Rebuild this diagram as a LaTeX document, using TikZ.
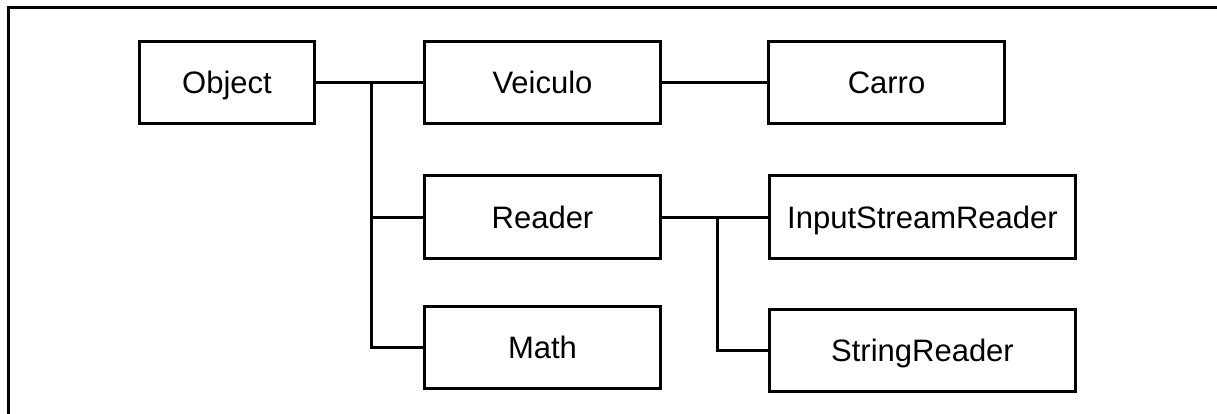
\documentclass[tikz,border=0pt]{standalone}
\usepackage{fontspec}
\setmainfont{Liberation Sans}
\begin{document}
\begin{tikzpicture}[x=1pt,y=-1pt,
  classbox/.style={draw, line width=3pt, rectangle, minimum height=82pt,
    inner sep=0pt, text height=22pt, text depth=0pt,
    font=\fontsize{31}{36}\selectfont},
  link/.style={line width=3pt}]
\useasboundingbox (0,0) rectangle (1217,414);
% frame
\draw[line width=3pt] (8,414) -- (8,7.5) -- (1217,7.5);
% classes
\node[classbox, minimum width=175pt] (obj) at (227,83) {Object};
\node[classbox, minimum width=236pt] (veic) at (542.5,83) {Veiculo};
\node[classbox, minimum width=236pt] (carro) at (886.5,83) {Carro};
\node[classbox, minimum width=236pt] (read) at (542.5,217) {Reader};
\node[classbox, minimum width=236pt] (math) at (542.5,347) {Math};
\node[classbox, minimum width=306pt] (isr) at (922.5,217) {InputStreamReader};
\node[classbox, minimum width=306pt] (sr) at (922.5,350.5) {StringReader};
% junctions
\coordinate (j1) at (371,83);
\coordinate (j2) at (717,217);
% connectors
\draw[link] (obj.east) -- (veic.west);
\draw[link] (veic.east) -- (carro.west);
\draw[link] (j1) |- (math.west);
\draw[link] (j1 |- read.west) -- (read.west);
\draw[link] (read.east) -- (isr.west);
\draw[link] (j2) |- (sr.west);
\end{tikzpicture}
\end{document}
